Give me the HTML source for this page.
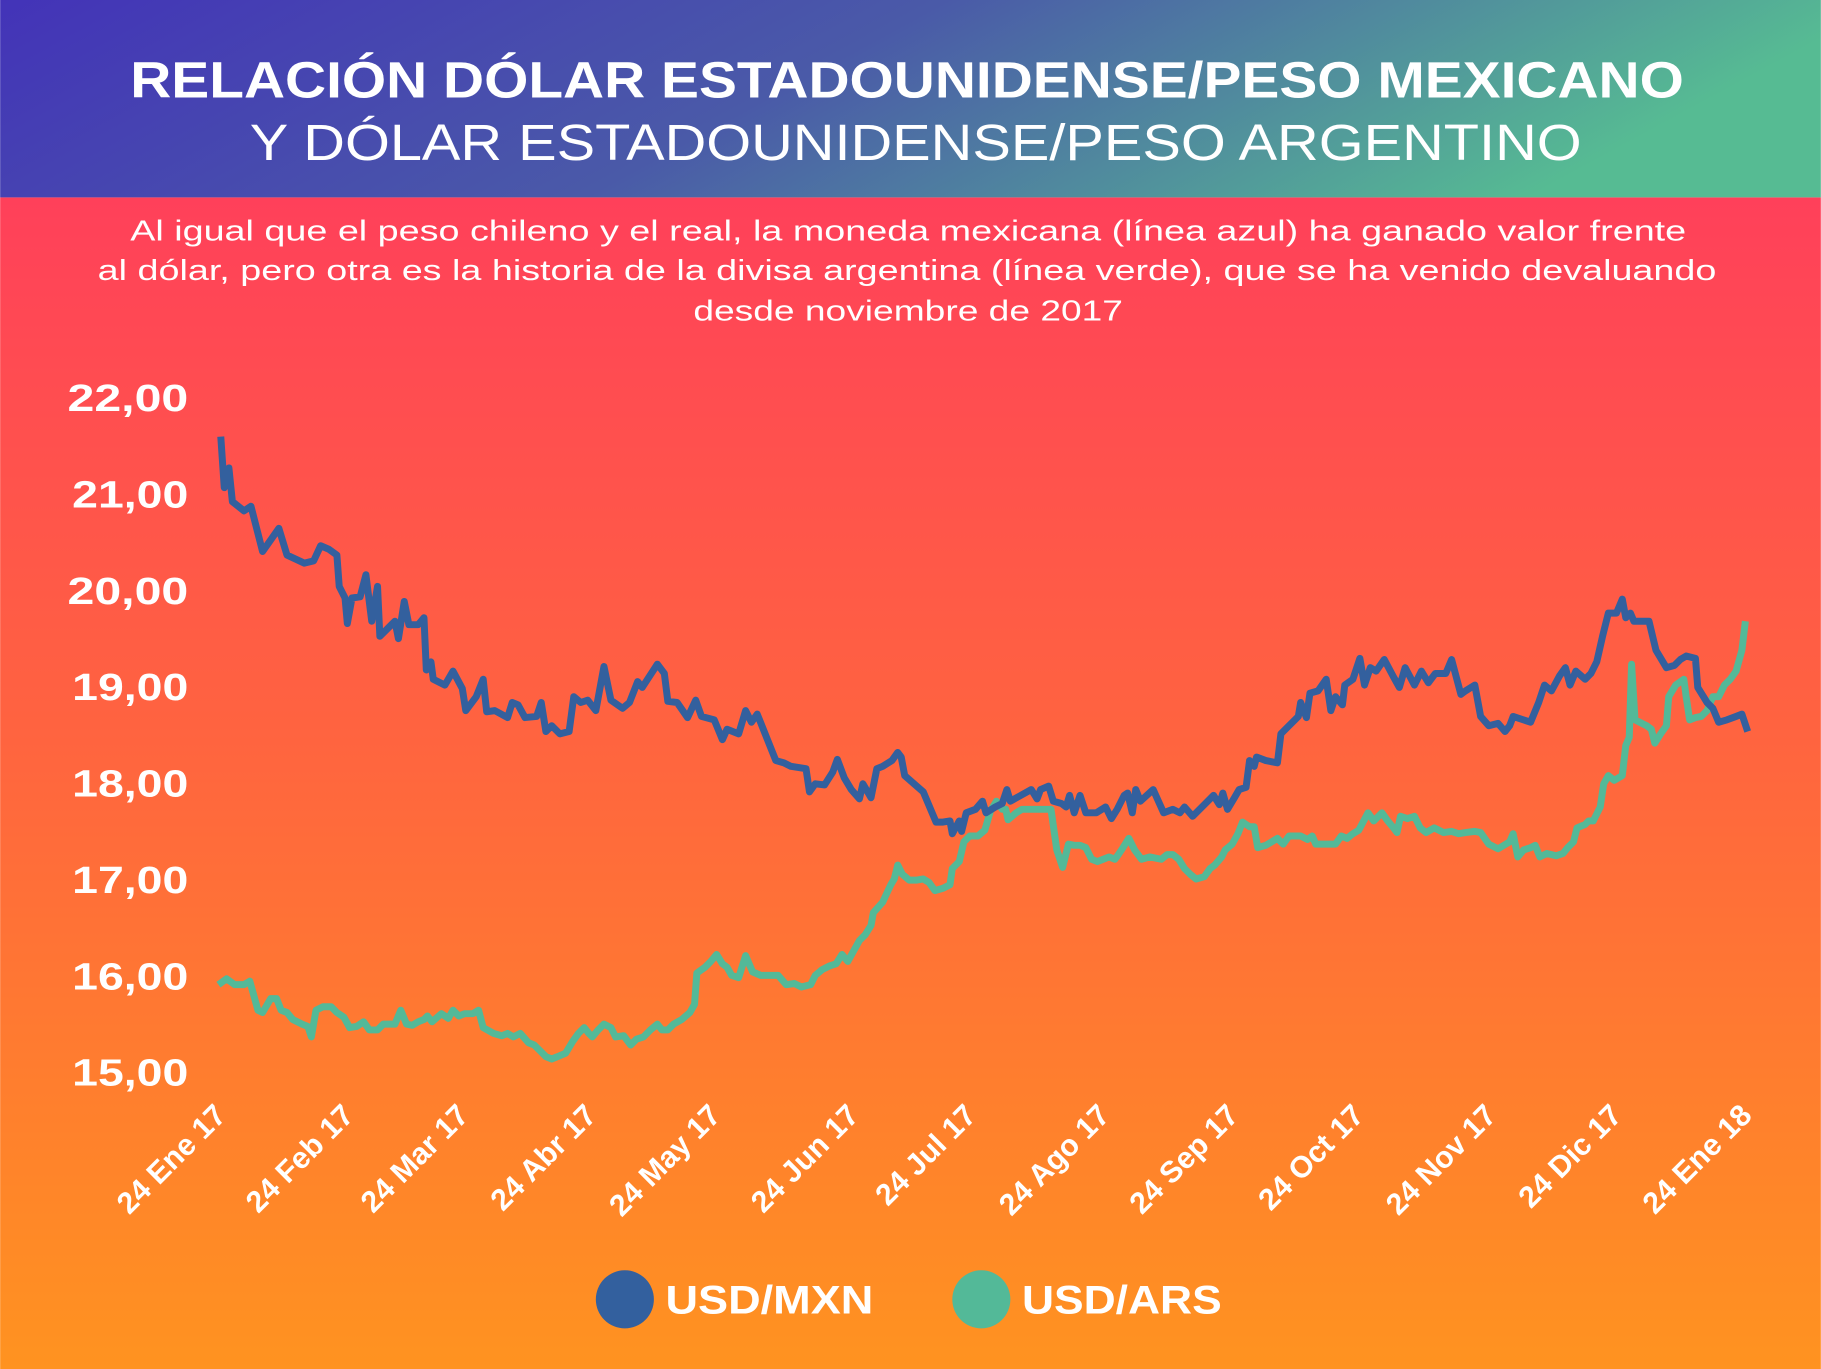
<!DOCTYPE html>
<html><head><meta charset="utf-8"><style>
html,body{margin:0;padding:0;width:1821px;height:1369px;overflow:hidden}
svg{display:block}
</style></head><body>
<svg width="1821" height="1369" viewBox="0 0 1568 1179" xmlns="http://www.w3.org/2000/svg" font-family="'Liberation Sans',sans-serif">
<defs>
<linearGradient id="hd" x1="0" y1="0" x2="1" y2="0.2"><stop offset="0" stop-color="#4333b8"/><stop offset="0.5" stop-color="#4a5aa8"/><stop offset="1" stop-color="#56bb93"/></linearGradient>
<linearGradient id="bd" x1="0" y1="0" x2="0" y2="1"><stop offset="0" stop-color="#ff405a"/><stop offset="0.45" stop-color="#ff6340"/><stop offset="1" stop-color="#ff9320"/></linearGradient>
</defs>
<rect x="0" y="170" width="1568" height="1009" fill="url(#bd)"/>
<rect x="0" y="0" width="1568" height="170" fill="url(#hd)"/>
<text x="112" y="84" fill="#fff" font-size="44" font-weight="bold" textLength="1338" lengthAdjust="spacingAndGlyphs">RELACIÓN DÓLAR ESTADOUNIDENSE/PESO MEXICANO</text>
<text x="215" y="138" fill="#fff" font-size="44" textLength="1147" lengthAdjust="spacingAndGlyphs">Y DÓLAR ESTADOUNIDENSE/PESO ARGENTINO</text>
<g fill="#fff" font-size="25">
<text x="112" y="207" textLength="1340" lengthAdjust="spacingAndGlyphs">Al igual que el peso chileno y el real, la moneda mexicana (línea azul) ha ganado valor frente</text>
<text x="84" y="241" textLength="1394" lengthAdjust="spacingAndGlyphs">al dólar, pero otra es la historia de la divisa argentina (línea verde), que se ha venido devaluando</text>
<text x="597" y="276" textLength="370" lengthAdjust="spacingAndGlyphs">desde noviembre de 2017</text>
</g>
<g fill="#fff" font-size="33" font-weight="bold">
<text x="58" y="354" textLength="104" lengthAdjust="spacingAndGlyphs">22,00</text><text x="62" y="437" textLength="100" lengthAdjust="spacingAndGlyphs">21,00</text><text x="58" y="520" textLength="104" lengthAdjust="spacingAndGlyphs">20,00</text><text x="62" y="603" textLength="100" lengthAdjust="spacingAndGlyphs">19,00</text><text x="62" y="686" textLength="100" lengthAdjust="spacingAndGlyphs">18,00</text><text x="62" y="769" textLength="100" lengthAdjust="spacingAndGlyphs">17,00</text><text x="62" y="852" textLength="100" lengthAdjust="spacingAndGlyphs">16,00</text><text x="62" y="935" textLength="100" lengthAdjust="spacingAndGlyphs">15,00</text>
</g>
<g fill="#fff" font-size="26" font-weight="bold" text-anchor="end">
<text transform="translate(196,962) rotate(-45)">24 Ene 17</text>
<text transform="translate(306,962) rotate(-45)">24 Feb 17</text>
<text transform="translate(405,962) rotate(-45)">24 Mar 17</text>
<text transform="translate(515,962) rotate(-45)">24 Abr 17</text>
<text transform="translate(622,962) rotate(-45)">24 May 17</text>
<text transform="translate(741,962) rotate(-45)">24 Jun 17</text>
<text transform="translate(842,962) rotate(-45)">24 Jul 17</text>
<text transform="translate(957,962) rotate(-45)">24 Ago 17</text>
<text transform="translate(1068,962) rotate(-45)">24 Sep 17</text>
<text transform="translate(1176,962) rotate(-45)">24 Oct 17</text>
<text transform="translate(1290,962) rotate(-45)">24 Nov 17</text>
<text transform="translate(1398,962) rotate(-45)">24 Dic 17</text>
<text transform="translate(1510,962) rotate(-45)">24 Ene 18</text>
</g>
<polyline fill="none" stroke="#53b998" stroke-width="6" stroke-linejoin="round" points="188,848 195,843 202,848 210,848 215,845 222,870 226,872 233,860 238,860 242,870 247,872 252,878 260,882 265,884 268,893 272,870 278,867 285,867 290,872 296,876 301,885 307,884 313,880 318,887 325,887 330,882 340,882 345,870 350,882 355,883 360,880 365,878 368,875 372,880 380,873 386,877 390,870 395,875 400,873 407,873 412,870 416,885 425,890 432,892 437,890 442,893 448,890 455,898 460,900 465,905 470,910 475,912 480,910 487,907 493,897 498,890 503,885 507,890 510,893 515,887 520,882 526,885 530,893 537,892 543,900 548,895 554,893 560,887 566,882 570,887 575,887 580,882 587,878 594,872 598,865 600,838 607,833 612,828 617,822 622,830 626,833 630,840 636,842 642,823 648,837 655,840 662,840 670,840 677,848 684,847 690,850 698,848 702,840 708,835 714,832 720,830 725,822 730,828 740,810 745,805 750,797 752,786 760,777 767,762 770,757 773,745 777,753 783,758 789,758 795,757 800,760 805,767 812,765 818,762 820,748 826,742 830,725 835,720 842,720 848,715 853,698 858,690 863,697 866,697 868,706 875,700 880,697 887,697 893,697 900,697 905,697 910,732 915,747 920,727 925,728 930,728 935,730 940,740 945,742 950,740 955,738 960,740 963,736 967,730 972,722 977,732 983,740 990,738 1000,740 1005,736 1010,736 1015,740 1020,748 1025,753 1030,757 1037,755 1042,748 1046,745 1052,738 1055,732 1061,727 1066,718 1070,708 1076,712 1080,712 1083,730 1090,728 1095,725 1100,722 1105,727 1110,720 1120,720 1126,723 1130,720 1133,727 1145,727 1150,727 1155,720 1160,722 1165,718 1170,715 1178,700 1183,707 1190,700 1195,707 1200,713 1203,717 1206,703 1212,705 1218,703 1223,713 1228,717 1235,713 1243,717 1250,716 1256,718 1262,717 1270,716 1275,717 1282,727 1290,731 1295,728 1300,725 1303,718 1307,738 1312,732 1318,730 1322,728 1326,738 1332,735 1340,737 1346,735 1350,730 1355,725 1358,713 1365,710 1368,707 1372,707 1378,695 1381,675 1385,668 1390,672 1397,668 1400,642 1403,635 1405,572 1408,620 1412,622 1418,625 1422,628 1425,640 1430,632 1435,625 1437,600 1443,590 1450,585 1452,600 1455,620 1460,618 1465,617 1470,612 1475,600 1480,600 1485,590 1490,585 1495,578 1500,560 1503,535"/>
<polyline fill="none" stroke="#33609e" stroke-width="6" stroke-linejoin="round" points="190,376 193,420 197,403 200,432 210,440 216,436 226,475 240,455 247,478 262,485 270,483 276,470 283,473 290,478 292,505 297,515 299,537 303,515 310,514 315,495 320,535 325,505 327,548 335,540 340,535 343,550 348,518 352,538 360,538 365,532 367,577 371,570 373,585 383,590 390,578 398,593 401,612 410,600 416,585 419,613 426,612 437,618 441,605 446,607 452,618 462,617 466,605 470,630 475,625 482,632 490,630 494,600 500,605 506,603 513,612 520,574 526,603 536,610 542,605 549,587 553,592 566,572 572,580 575,604 583,605 592,618 599,603 604,617 615,620 622,637 626,628 636,632 642,612 647,622 652,615 668,655 675,657 681,660 694,662 697,682 702,675 710,676 717,665 721,654 727,670 733,680 740,688 743,675 750,687 755,662 760,660 768,655 773,648 776,652 779,668 795,682 806,708 812,708 818,707 820,718 826,707 828,716 832,700 840,697 846,690 849,700 857,695 863,692 867,680 870,690 879,685 888,680 893,688 896,680 903,677 907,690 914,692 918,695 921,685 925,700 930,685 935,700 944,700 952,695 957,705 962,697 968,685 971,683 975,700 978,680 982,690 993,680 1002,700 1010,697 1016,700 1020,695 1027,703 1037,693 1045,685 1050,693 1053,683 1057,697 1063,687 1067,680 1073,678 1076,655 1080,660 1082,652 1090,655 1100,657 1103,632 1110,625 1118,617 1120,605 1125,618 1128,597 1135,595 1142,585 1146,612 1150,600 1156,607 1158,590 1165,585 1171,567 1175,590 1180,575 1185,578 1192,568 1200,583 1205,592 1210,575 1218,590 1224,578 1230,588 1236,580 1245,580 1250,568 1258,598 1262,595 1270,590 1275,617 1282,625 1290,623 1296,630 1300,625 1303,617 1318,622 1325,605 1330,590 1336,595 1343,582 1348,575 1352,590 1357,578 1365,585 1370,580 1375,570 1380,548 1385,528 1392,528 1397,516 1400,532 1404,528 1407,535 1413,535 1420,535 1426,560 1435,575 1442,573 1447,568 1452,565 1460,567 1462,592 1470,605 1475,610 1480,622 1487,620 1495,617 1500,615 1505,630"/>
<circle cx="538" cy="1119" r="25" fill="#33609e"/>
<text x="573" y="1131" fill="#fff" font-size="34" font-weight="bold" textLength="179" lengthAdjust="spacingAndGlyphs">USD/MXN</text>
<circle cx="845" cy="1119" r="25" fill="#53b998"/>
<text x="880" y="1131" fill="#fff" font-size="34" font-weight="bold" textLength="172" lengthAdjust="spacingAndGlyphs">USD/ARS</text>
</svg>
</body></html>
